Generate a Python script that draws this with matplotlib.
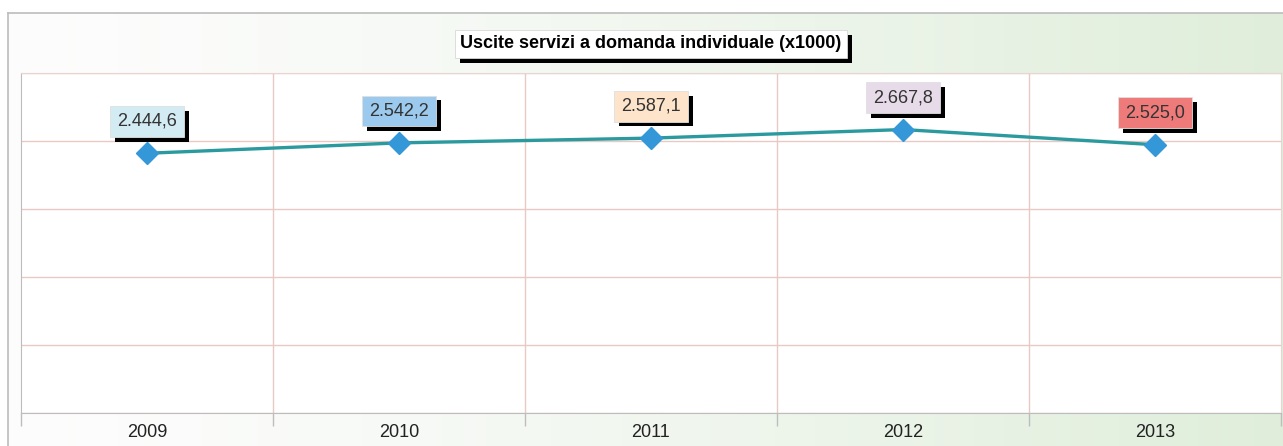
import numpy as np
import matplotlib.pyplot as plt
import matplotlib.patheffects as pe

plt.rcParams['font.family'] = ['Liberation Sans', 'DejaVu Sans']

# data
years = ["2009", "2010", "2011", "2012", "2013"]
values = [2444.6, 2542.2, 2587.1, 2667.8, 2525.0]
value_labels = ["2.444,6", "2.542,2", "2.587,1", "2.667,8", "2.525,0"]
label_colors = ["#d3ebf3", "#9ccaee", "#fde4ca", "#e7dbea", "#ef7a7a"]
title = "Uscite servizi a domanda individuale (x1000)"

W, H = 1283, 446
fig = plt.figure(figsize=(W / 100, H / 100), dpi=100)

# gradient background frame
bg = fig.add_axes([8 / W, 0, 1 - 8 / W, 1 - 13 / H])
grad = np.linspace(0, 1, 256).reshape(1, -1) ** 1.4
left_c = np.array([0.99, 0.99, 0.99])
right_c = np.array([0.875, 0.932, 0.855])
img = left_c[None, None, :] * (1 - grad[..., None]) + right_c[None, None, :] * grad[..., None]
bg.imshow(img, aspect="auto", extent=[0, 1, 0, 1])
bg.set_xlim(0, 1)
bg.set_ylim(0, 1)
bg.set_xticks([])
bg.set_yticks([])
for s in ["right", "bottom"]:
    bg.spines[s].set_visible(False)
for s in ["left", "top"]:
    bg.spines[s].set_color("#bcbcbc")
    bg.spines[s].set_linewidth(1.2)

# plot area
ax = fig.add_axes([21 / W, (H - 413) / H, 1260 / W, 340 / H])
ax.set_facecolor("white")
x = np.arange(len(years))
ax.set_xlim(-0.5, len(years) - 0.5)
ax.set_ylim(0, 3200)
ax.set_yticks(np.arange(0, 3201, 640))
ax.yaxis.grid(True, color="#e8c9c4", linewidth=1)
ax.tick_params(axis="y", left=False, labelleft=False)
ax.set_xticks(x)
ax.set_xticklabels(years, fontsize=13, color="#222222")
ax.tick_params(axis="x", which="major", length=0, pad=8)
ax.set_xticks(np.arange(-0.5, len(years), 1.0), minor=True)
ax.tick_params(axis="x", which="minor", length=9, color="#bdbdbd", width=1)
for b in np.arange(0.5, len(years) - 1, 1.0):
    ax.axvline(b, color="#e8c9c4", linewidth=1, zorder=1)
for s in ["top", "right"]:
    ax.spines[s].set_color("#e8d4d0")
for s in ["left", "bottom"]:
    ax.spines[s].set_color("#bdbdbd")
ax.set_axisbelow(True)

ax.plot(x, values, color="#2a9a9e", linewidth=2.4, zorder=3)
ax.plot(x, values, linestyle="none", marker="D", markersize=11,
        color="#3497d8", markeredgecolor="#3497d8", zorder=4)

shadow = [pe.withSimplePatchShadow(offset=(3.5, -3.5), shadow_rgbFace="black", alpha=1.0)]
for xi, v, lab, c in zip(x, values, value_labels, label_colors):
    t = ax.annotate(lab, (xi, v), xytext=(0, 23), textcoords="offset points",
                    ha="center", va="center", fontsize=13, color="#333333",
                    bbox=dict(boxstyle="square,pad=0.38", facecolor=c,
                              edgecolor="#e0e0e0", linewidth=0.6),
                    zorder=5)
    t.get_bbox_patch().set_path_effects(shadow)

tt = fig.text(651 / W, 1 - 44 / H, title, ha="center", va="center",
              fontsize=13, fontweight="bold", color="black",
              bbox=dict(boxstyle="square,pad=0.3", facecolor="white",
                        edgecolor="#d8d8d8", linewidth=0.6))
tt.get_bbox_patch().set_path_effects(shadow)

fig.savefig("out.png", dpi=100)
